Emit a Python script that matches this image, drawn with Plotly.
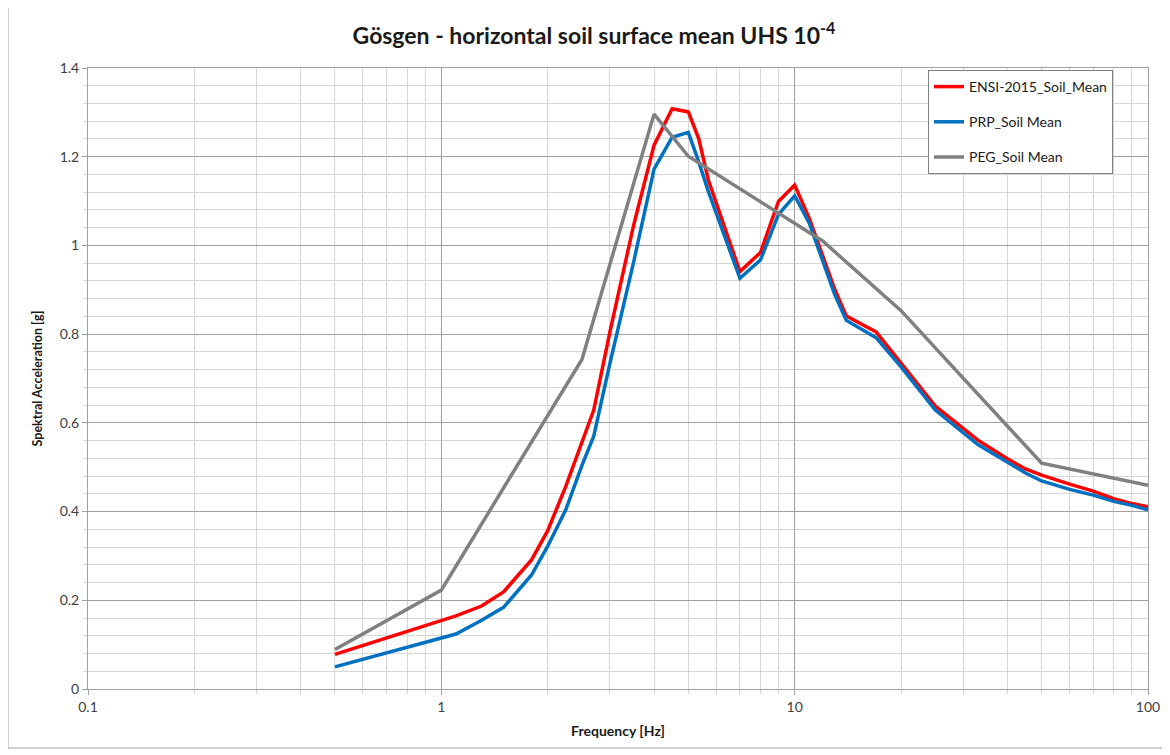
import plotly.graph_objects as go

# Frequencies [Hz] for ENSI and PRP series
freq = [0.5, 1, 1.1, 1.3, 1.5, 1.8, 2, 2.25, 2.5, 2.7, 3, 3.5, 4, 4.5, 5, 5.35, 5.7,
        7, 8, 9, 10, 11, 13, 14, 17, 20, 25, 33, 40, 45, 50, 60, 70, 80, 90, 100]
ensi = [0.078, 0.155, 0.165, 0.187, 0.219, 0.291, 0.357, 0.457, 0.557, 0.629, 0.805, 1.045,
        1.226, 1.308, 1.301, 1.241, 1.147, 0.941, 0.984, 1.099, 1.136, 1.061, 0.900, 0.841,
        0.805, 0.735, 0.638, 0.561, 0.519, 0.496, 0.482, 0.462, 0.446, 0.429, 0.418, 0.411]
prp = [0.050, 0.115, 0.124, 0.155, 0.184, 0.257, 0.322, 0.404, 0.504, 0.570, 0.734, 0.962,
       1.172, 1.244, 1.255, 1.189, 1.121, 0.926, 0.967, 1.070, 1.112, 1.050, 0.888, 0.831,
       0.792, 0.726, 0.629, 0.551, 0.510, 0.487, 0.469, 0.450, 0.437, 0.423, 0.414, 0.404]

# PEG series
freq_peg = [0.5, 1, 2.5, 4, 5, 12, 20, 50, 100]
peg = [0.089, 0.223, 0.743, 1.296, 1.201, 1.010, 0.853, 0.509, 0.459]

xtick_vals = [0.1, 1, 10, 100]
xtick_text = ["0.1", "1", "10", "100"]

FONT = "Lato"
TXT = "#404040"
MAJ = "#a0a0a0"
MIN = "#d6d6d6"

# page body has an 8px margin: shift margins so the plot area lands where the reference has it
OFF = 8
L, T = 88, 68
PW, PH = 1060, 621

fig = go.Figure()
fig.add_trace(go.Scatter(x=freq, y=ensi, mode="lines", name="ENSI-2015_Soil_Mean",
                         line=dict(color="#ff0000", width=3.5), legendgroup="a"))
fig.add_trace(go.Scatter(x=freq, y=prp, mode="lines", name="PRP_Soil Mean",
                         line=dict(color="#0070c0", width=3.5), legendgroup="b"))
fig.add_trace(go.Scatter(x=freq_peg, y=peg, mode="lines", name="PEG_Soil Mean",
                         line=dict(color="#808080", width=3.5), legendgroup="c"))

minor_x = [m * d for d in (0.1, 1, 10) for m in range(2, 10)]

W, H = 1170, 755
fig.update_layout(
    width=W, height=H,
    margin=dict(l=L - OFF, r=W - (L - OFF) - PW, t=T - OFF, b=H - (T - OFF) - PH, autoexpand=False),
    paper_bgcolor="white", plot_bgcolor="white",
    font=dict(family=FONT, color=TXT, size=13),
    title=dict(text="<b>Gösgen - horizontal soil surface mean UHS 10<sup>-4</sup></b>",
               x=(594 - OFF) / W, xanchor="center", xref="container",
               y=1 - (36 - OFF) / H, yanchor="middle", yref="container",
               font=dict(family=FONT, size=23, color="#1a1a1a")),
    xaxis=dict(type="log", range=[-1, 2], tickmode="array", tickvals=xtick_vals,
               ticktext=xtick_text, showgrid=True, gridcolor=MAJ, gridwidth=1,
               minor=dict(tickmode="array", tickvals=minor_x, showgrid=True,
                          gridcolor=MIN, gridwidth=1, ticks="outside", ticklen=4,
                          tickcolor=MIN),
               ticks="outside", ticklen=5, tickcolor=MAJ,
               showline=True, linecolor=MAJ, linewidth=1, mirror=True,
               zeroline=False, tickfont=dict(size=14, color=TXT),
               title=dict(text="<b>Frequency [Hz]</b>", font=dict(size=14, color="#1a1a1a"),
                          standoff=12)),
    yaxis=dict(range=[0, 1.4], dtick=0.2, tick0=0, showgrid=True, gridcolor=MAJ, gridwidth=1,
               minor=dict(dtick=0.04, showgrid=True, gridcolor=MIN, gridwidth=1,
                          ticks="outside", ticklen=4, tickcolor=MIN),
               ticks="outside", ticklen=5, tickcolor=MAJ,
               showline=True, linecolor=MAJ, linewidth=1, mirror=True,
               zeroline=False, tickfont=dict(size=14, color=TXT),
               title=dict(text="<b>Spektral Acceleration [g]</b>", font=dict(size=12.5, color="#1a1a1a"),
                          standoff=14)),
    legend=dict(x=(928 - L) / PW, y=(L + PH - 87 - 70 + 87 - L) / PH if False else (T + PH - 70) / PH,
                xanchor="left", yanchor="top",
                bordercolor="#808080", borderwidth=1, bgcolor="white",
                font=dict(size=14, color="#1a1a1a", family=FONT),
                tracegroupgap=14, itemwidth=30),
    showlegend=True,
    shapes=[dict(type="rect", xref="paper", yref="paper",
                 x0=(8 - L) / PW, x1=(1163 - L) / PW,
                 y0=(T + PH - 748) / PH, y1=(T + PH - 4) / PH,
                 line=dict(color="#a0a0a0", width=1), fillcolor="rgba(0,0,0,0)", layer="below")],
)

fig.write_html("out.html")
